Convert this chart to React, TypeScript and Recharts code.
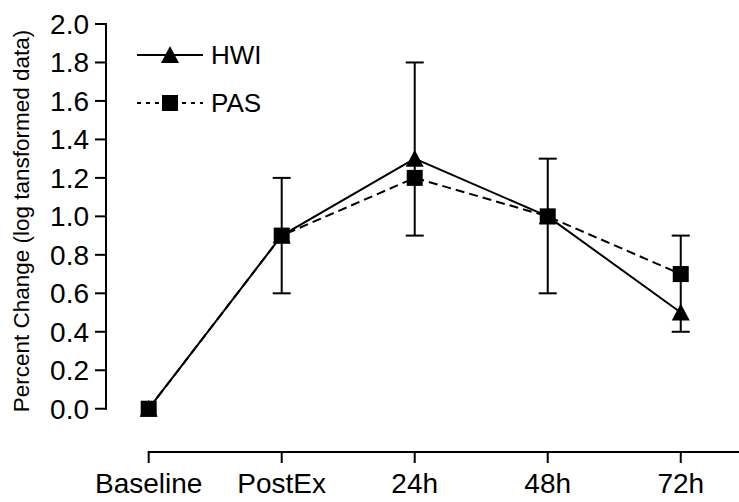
import React from 'react';
import { LineChart, Line, XAxis, YAxis, ErrorBar, ReferenceLine, Legend } from 'recharts';

// ---- data ----
const categories = ['Baseline', 'PostEx', '24h', '48h', '72h'];
const hwiValues = [0, 0.9, 1.3, 1.0, 0.5];
const pasValues = [0, 0.9, 1.2, 1.0, 0.7];
const hwiErrorUp: (number | null)[] = [null, 0.3, 0.5, 0.3, 0.4];
const pasErrorDown: (number | null)[] = [null, 0.3, 0.3, 0.4, 0.3];
const yTicks = [0, 0.2, 0.4, 0.6, 0.8, 1.0, 1.2, 1.4, 1.6, 1.8, 2.0];
const xTicks = [0, 1, 2, 3, 4];
const Y_LABEL = 'Percent Change (log tansformed data)';

// ---- layout constants ----
const FONT = '"Liberation Sans", Arial, Helvetica, sans-serif';
const W = 739;
const H = 502;
const X_MIN = -0.321;
const X_MAX = 4.438;
const Y_MIN = -0.225;
const Y_MAX = 2.0;

const SERIES = [
  { key: 'hwi', name: 'HWI', shape: 'triangle', dash: undefined as string | undefined, legendDash: undefined as string | undefined },
  { key: 'pas', name: 'PAS', shape: 'square', dash: '9 5', legendDash: '4 5' },
];

// table for the library: one combined whisker per time point (HWI above, PAS below)
const data = categories.map((name, i) => {
  const up = hwiErrorUp[i];
  const down = pasErrorDown[i];
  let err: number[] | null = null;
  if (up != null && down != null) {
    const high = Math.max(hwiValues[i] + up, pasValues[i]);
    const low = Math.min(pasValues[i] - down, hwiValues[i]);
    err = [hwiValues[i] - low, high - hwiValues[i]];
  }
  return { x: i, name, hwi: hwiValues[i], pas: pasValues[i], err };
});

const TriangleDot = (props: any) => {
  const { cx, cy, index } = props;
  if (cx == null || cy == null) return <g key={`t${index}`} />;
  return (
    <path
      key={`t${index}`}
      d={`M${cx},${cy - 9}L${cx + 9},${cy + 8}L${cx - 9},${cy + 8}Z`}
      fill="#000"
      stroke="none"
    />
  );
};

const SquareDot = (props: any) => {
  const { cx, cy, index } = props;
  if (cx == null || cy == null) return <g key={`s${index}`} />;
  return <rect key={`s${index}`} x={cx - 8} y={cy - 8} width={16} height={16} fill="#000" stroke="none" />;
};

const renderLegend = (props: any) => {
  const payload = (props && props.payload) || [];
  return (
    <div style={{ display: 'flex', flexDirection: 'column' }}>
      {payload.map((entry: any) => {
        const s = SERIES.find((q) => q.key === entry.dataKey) || SERIES[0];
        return (
          <div key={s.key} style={{ display: 'flex', alignItems: 'center', height: 48 }}>
            <svg width={66} height={24} style={{ display: 'block' }}>
              <line x1={0} y1={12} x2={66} y2={12} stroke="#000" strokeWidth={2} strokeDasharray={s.legendDash} />
              {s.shape === 'triangle' ? (
                <path d="M33,3L42,20L24,20Z" fill="#000" />
              ) : (
                <rect x={25} y={4} width={16} height={16} fill="#000" />
              )}
            </svg>
            <span style={{ marginLeft: 8, fontSize: 26, lineHeight: 1, fontFamily: FONT, color: '#000' }}>
              {entry.value}
            </span>
          </div>
        );
      })}
    </div>
  );
};

export default function App() {
  return (
    <div style={{ position: 'absolute', left: 0, top: 0, width: W, height: H, background: '#fff' }}>
      <LineChart width={W} height={H} data={data} margin={{ top: 24, right: 0, bottom: 0, left: 0 }}>
        <XAxis
          type="number"
          dataKey="x"
          domain={[X_MIN, X_MAX]}
          allowDataOverflow
          ticks={xTicks}
          interval={0}
          tickFormatter={(v: number) => categories[v] ?? ''}
          axisLine={false}
          tickLine={{ stroke: '#000', strokeWidth: 2 }}
          tickSize={11}
          tickMargin={10}
          height={50}
          tick={{ fontSize: 28, fill: '#000', fontFamily: FONT }}
        />
        <YAxis
          type="number"
          domain={[Y_MIN, Y_MAX]}
          allowDataOverflow
          ticks={yTicks}
          interval={0}
          tickFormatter={(v: number) => v.toFixed(1)}
          axisLine={false}
          tickLine={{ stroke: '#000', strokeWidth: 2 }}
          tickSize={11}
          tickMargin={6}
          width={106}
          tick={{ fontSize: 28, fill: '#000', fontFamily: FONT }}
          label={{
            value: Y_LABEL,
            content: () => (
              <text
                x={29}
                y={221}
                transform="rotate(-90 29 221)"
                textAnchor="middle"
                fontSize={22.5}
                fontFamily={FONT}
                fill="#000"
              >
                {Y_LABEL}
              </text>
            ),
          }}
        />
        <ReferenceLine
          segment={[{ x: X_MIN, y: 0 }, { x: X_MIN, y: Y_MAX }]}
          stroke="#000"
          strokeWidth={2}
          strokeLinecap="square"
          ifOverflow="visible"
        />
        <ReferenceLine
          segment={[{ x: 0, y: Y_MIN }, { x: X_MAX, y: Y_MIN }]}
          stroke="#000"
          strokeWidth={2}
          strokeLinecap="square"
          ifOverflow="visible"
        />
        <Legend
          layout="vertical"
          align="center"
          verticalAlign="middle"
          content={renderLegend}
          wrapperStyle={{ left: 137, top: 31, width: 'auto', height: 'auto' }}
        />
        <Line
          dataKey="hwi"
          name="HWI"
          stroke="#000"
          strokeWidth={2}
          dot={TriangleDot}
          activeDot={false}
          isAnimationActive={false}
        >
          <ErrorBar dataKey="err" direction="y" width={9} stroke="#000" strokeWidth={2} isAnimationActive={false} />
        </Line>
        <Line
          dataKey="pas"
          name="PAS"
          stroke="#000"
          strokeWidth={2}
          strokeDasharray="9 5"
          dot={SquareDot}
          activeDot={false}
          isAnimationActive={false}
        />
      </LineChart>
    </div>
  );
}
